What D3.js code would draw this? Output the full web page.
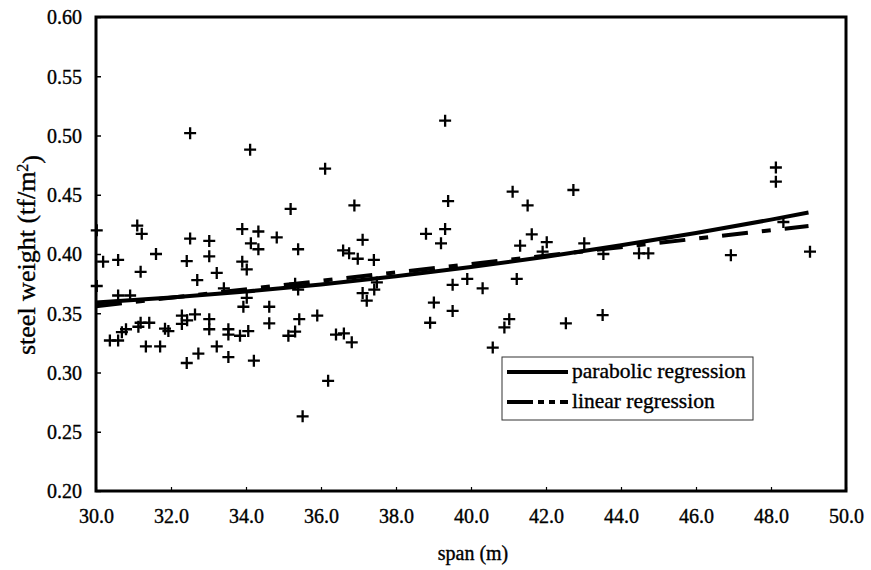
<!DOCTYPE html>
<html>
<head>
<meta charset="utf-8">
<script src="https://cdn.jsdelivr.net/npm/d3@7"></script>
<style>
  html, body { margin: 0; padding: 0; background: #fff; }
  svg { display: block; }
  text { font-family: "Liberation Serif", "Times New Roman", serif; fill: #000; }
</style>
</head>
<body>
<svg id="chart" width="871" height="570"></svg>
<script>
// Observed bridges: span (m) and steel weight (tf/m²)
const spanValues = [
  32.51, 34.11, 31.10, 31.22, 32.51, 33.02, 33.90, 34.33, 34.82, 34.13,
  34.33, 30.19, 30.59, 31.60, 32.42, 33.02, 33.90, 34.02, 31.19, 33.22,
  32.70, 33.41, 30.59, 30.91, 34.02, 33.93, 34.62, 30.02, 30.02, 34.62,
  30.37, 30.59, 30.69, 30.80, 31.13, 31.19, 31.42, 31.84, 31.93, 32.29,
  32.29, 32.43, 32.64, 33.02, 33.02, 33.53, 33.53, 33.84, 34.06, 33.22,
  33.53, 34.21, 32.42, 32.73, 31.33, 31.71, 39.31, 36.11, 35.19, 36.89,
  39.39, 35.39, 37.11, 38.80, 39.31, 39.20, 36.59, 36.75, 36.98, 37.41,
  35.31, 35.39, 37.49, 37.42, 37.11, 37.22, 39.51, 39.01, 35.42, 35.90,
  35.13, 35.31, 36.40, 36.61, 36.82, 36.19, 35.51, 39.51, 38.91, 41.11,
  42.73, 41.51, 41.62, 41.31, 42.02, 43.02, 43.53, 41.91, 39.90, 40.31,
  41.22, 41.02, 40.89, 42.53, 43.51, 40.58, 48.13, 48.13, 44.48, 44.73,
  46.93, 49.04, 48.33
];
const weightValues = [
  0.502, 0.488, 0.424, 0.417, 0.413, 0.411, 0.421, 0.419, 0.414, 0.409,
  0.404, 0.3935, 0.395, 0.400, 0.394, 0.398, 0.3935, 0.387, 0.385, 0.384,
  0.378, 0.371, 0.365, 0.365, 0.363, 0.3555, 0.3555, 0.420, 0.373, 0.3415,
  0.327, 0.327, 0.334, 0.3365, 0.3386, 0.342, 0.342, 0.337, 0.335, 0.348,
  0.341, 0.344, 0.349, 0.345, 0.3365, 0.3365, 0.332, 0.331, 0.335, 0.322,
  0.313, 0.310, 0.308, 0.316, 0.322, 0.322, 0.5125, 0.472, 0.438, 0.441,
  0.4447, 0.404, 0.412, 0.417, 0.421, 0.409, 0.403, 0.4006, 0.396, 0.395,
  0.375, 0.370, 0.376, 0.370, 0.367, 0.3606, 0.374, 0.359, 0.345, 0.348,
  0.331, 0.3345, 0.332, 0.333, 0.3255, 0.293, 0.263, 0.352, 0.342, 0.4526,
  0.454, 0.441, 0.4166, 0.407, 0.410, 0.409, 0.400, 0.402, 0.379, 0.371,
  0.379, 0.345, 0.338, 0.3415, 0.3485, 0.321, 0.473, 0.461, 0.4006, 0.4006,
  0.399, 0.402, 0.427
];

// Fitted curves
const parabolicSpan   = [30, 32, 34, 36, 38, 40, 42, 44, 46, 48, 49];
const parabolicWeight = [0.359, 0.3632, 0.3683, 0.3743, 0.3812, 0.389, 0.3977, 0.4073, 0.4177, 0.429, 0.435];
const linearSpan   = [30, 49];
const linearWeight = [0.356, 0.4236];

// Axes
const xTicks = [30, 32, 34, 36, 38, 40, 42, 44, 46, 48, 50];
const yTicks = [0.20, 0.25, 0.30, 0.35, 0.40, 0.45, 0.50, 0.55, 0.60];
const legendLabels = ["parabolic regression", "linear regression"];

const svg = d3.select("#chart");
const plotLeft = 96, plotRight = 846, plotTop = 17, plotBottom = 491;

const x = d3.scaleLinear().domain([30, 50]).range([plotLeft, plotRight]);
const y = d3.scaleLinear().domain([0.20, 0.60]).range([plotBottom, plotTop]);

// heavier text, like a printed figure
const ink = sel => sel.attr("stroke", "#000").attr("stroke-width", 0.35);

// y axis
const yAxis = svg.append("g")
  .attr("transform", `translate(${plotLeft},0)`)
  .call(d3.axisLeft(y).tickValues(yTicks).tickFormat(d3.format(".2f"))
    .tickSizeInner(-5).tickSizeOuter(0).tickPadding(14));
yAxis.select(".domain").remove();
yAxis.selectAll("line").attr("stroke", "#000").attr("stroke-width", 1.5);
yAxis.selectAll("text").style("font-size", "20px").attr("dy", "0.34em").call(ink);

// x axis
const xAxis = svg.append("g")
  .attr("transform", `translate(0,${plotBottom})`)
  .call(d3.axisBottom(x).tickValues(xTicks).tickFormat(d3.format(".1f"))
    .tickSizeInner(-4).tickSizeOuter(0).tickPadding(18));
xAxis.select(".domain").remove();
xAxis.selectAll("line").attr("stroke", "#000").attr("stroke-width", 1.2);
xAxis.selectAll("text").style("font-size", "20px").call(ink);

// plot frame
svg.append("rect")
  .attr("x", plotLeft).attr("y", plotTop)
  .attr("width", plotRight - plotLeft).attr("height", plotBottom - plotTop)
  .attr("fill", "none").attr("stroke", "#000").attr("stroke-width", 3);

// regression curves
const line = d3.line().x(d => x(d[0])).y(d => y(d[1]));
svg.append("path")
  .datum(linearSpan.map((s, i) => [s, linearWeight[i]]))
  .attr("d", line)
  .attr("fill", "none").attr("stroke", "#000").attr("stroke-width", 4)
  .attr("stroke-dasharray", "26,14,9,14");
svg.append("path")
  .datum(parabolicSpan.map((s, i) => [s, parabolicWeight[i]]))
  .attr("d", line.curve(d3.curveMonotoneX))
  .attr("fill", "none").attr("stroke", "#000").attr("stroke-width", 4);

// observations as crosses
svg.append("g")
  .selectAll("path")
  .data(spanValues.map((s, i) => [s, weightValues[i]]))
  .join("path")
  .attr("d", d => {
    const cx = x(d[0]), cy = y(d[1]), h = 6;
    return `M${cx - h},${cy}H${cx + h}M${cx},${cy - h}V${cy + h}`;
  })
  .attr("stroke", "#000").attr("stroke-width", 2.3).attr("fill", "none");

// legend
const legend = svg.append("g").attr("transform", "translate(502,357)");
legend.append("rect").attr("width", 251).attr("height", 63)
  .attr("fill", "#fff").attr("stroke", "#333").attr("stroke-width", 1);
const rows = [
  { label: legendLabels[0], dash: null, y: 15 },
  { label: legendLabels[1], dash: "26,5,6,5,6,5", y: 45 }
];
rows.forEach(r => {
  legend.append("line").attr("x1", 5).attr("x2", 66)
    .attr("y1", r.y).attr("y2", r.y)
    .attr("stroke", "#000").attr("stroke-width", 4)
    .attr("stroke-dasharray", r.dash);
  legend.append("text").attr("x", 70).attr("y", r.y).attr("dy", "0.3em")
    .style("font-size", "21.5px").call(ink).text(r.label);
});

// axis titles
svg.append("text")
  .attr("x", 473).attr("y", 560).attr("text-anchor", "middle")
  .style("font-size", "20px").call(ink).text("span (m)");
const yTitle = svg.append("text")
  .attr("transform", "translate(35,255) rotate(-90)")
  .attr("text-anchor", "middle").style("font-size", "26px").call(ink);
yTitle.append("tspan").text("steel weight (tf/m");
yTitle.append("tspan").attr("dy", "-0.45em").style("font-size", "16px").text("2");
yTitle.append("tspan").attr("dy", "0.45em").text(")");
</script>
</body>
</html>
